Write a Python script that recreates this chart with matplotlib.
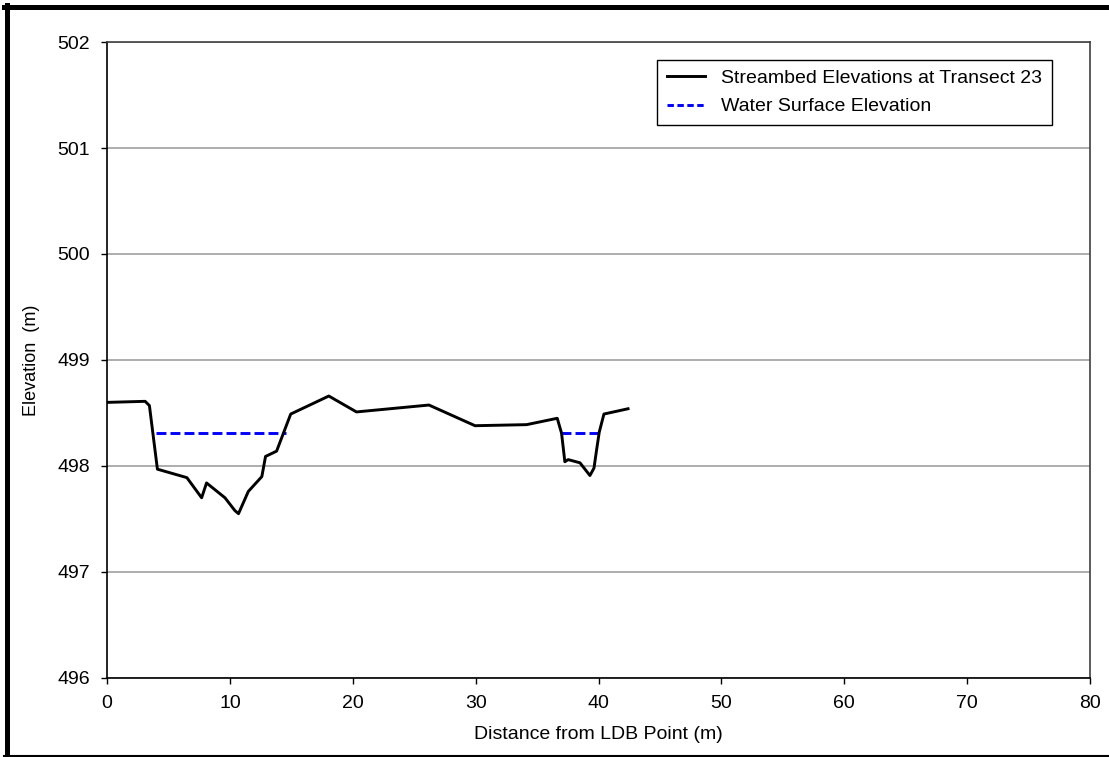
import matplotlib
matplotlib.use('Agg')
import matplotlib.pyplot as plt
from matplotlib.lines import Line2D

plt.rcParams['font.family'] = ['Liberation Sans', 'DejaVu Sans']

# streambed profile at transect 23
bed_x = [0.0, 3.1, 3.45, 4.1, 6.5, 7.7, 8.1, 9.6, 10.4, 10.7, 11.5, 12.6, 12.9,
         13.8, 14.95, 18.05, 20.3, 26.2, 29.95, 34.15, 36.64, 36.99, 37.26,
         37.53, 38.49, 39.3, 39.63, 39.84, 40.06, 40.44, 42.4]
bed_y = [498.60, 498.61, 498.57, 497.97, 497.89, 497.70, 497.84, 497.70, 497.58,
         497.55, 497.76, 497.90, 498.09, 498.14, 498.49, 498.66, 498.51, 498.575,
         498.38, 498.39, 498.45, 498.31, 498.04, 498.06, 498.03, 497.91, 497.98,
         498.15, 498.32, 498.49, 498.54]

# water surface, two wetted channels
ws_x1 = [3.99, 14.6]
ws_x2 = [36.95, 39.95]
ws_elev = 498.31

c_bed = 'black'
c_ws = '#0000FF'
lw = 2.1
dash = (3.4, 1.4)

fig = plt.figure(figsize=(11.09, 7.57), dpi=100)
ax = fig.add_axes([0.0965, 0.1044, 0.8864, 0.8401])

ax.plot(bed_x, bed_y, '-', color=c_bed, lw=lw, zorder=4)
ax.plot(ws_x1, [ws_elev] * 2, color=c_ws, lw=lw, ls='--', dashes=dash, zorder=3)
ax.plot(ws_x2, [ws_elev] * 2, color=c_ws, lw=lw, ls='--', dashes=dash, zorder=3)

ax.set_xlim(0, 80)
ax.set_ylim(496, 502)
ax.set_xticks(range(0, 81, 10))
ax.set_yticks(range(496, 503))
ax.yaxis.grid(True, color='#a0a0a0', lw=1.2, zorder=1)
ax.set_axisbelow(True)
ax.tick_params(direction='out', length=4.5, width=1, labelsize=14, pad=7.5)

for s in ['left', 'bottom']:
    ax.spines[s].set_color('black')
    ax.spines[s].set_linewidth(1.2)
for s in ['top', 'right']:
    ax.spines[s].set_color('#404040')
    ax.spines[s].set_linewidth(1.2)

ax.set_xlabel('Distance from LDB Point (m)', fontsize=14, labelpad=10)
ax.set_ylabel('Elevation  (m)', fontsize=13, labelpad=13)

handles = [Line2D([], [], color=c_bed, lw=lw),
           Line2D([], [], color=c_ws, lw=lw, ls='--', dashes=(2.2, 1.2))]
leg = ax.legend(handles, ['Streambed Elevations at Transect 23', 'Water Surface Elevation'],
                loc='upper right', bbox_to_anchor=(0.961, 0.972), borderaxespad=0,
                fontsize=14, frameon=True, fancybox=False, framealpha=1,
                edgecolor='black', handlelength=2.0, handletextpad=0.8,
                borderpad=0.5, labelspacing=0.55)
leg.get_frame().set_linewidth(1.0)

# outer chart border (thick left/top, thin bottom)
fig.add_artist(Line2D([0.0059, 0.0059], [0.0, 0.994], transform=fig.transFigure,
                      color='black', lw=3.6))
fig.add_artist(Line2D([0.0035, 1.0], [0.9914, 0.9914], transform=fig.transFigure,
                      color='black', lw=3.6))
fig.add_artist(Line2D([0.0035, 1.0], [0.0015, 0.0015], transform=fig.transFigure,
                      color='black', lw=1.5))

fig.savefig('out.png', dpi=100)
